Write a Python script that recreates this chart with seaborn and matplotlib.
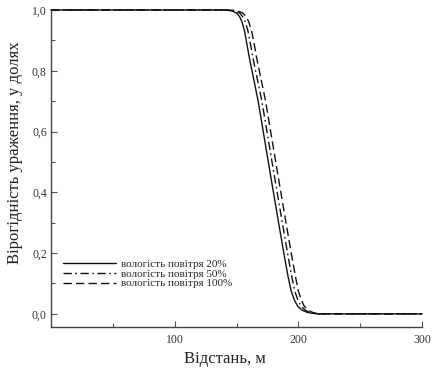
import numpy as np
import pandas as pd
import matplotlib
matplotlib.use("Agg")
import matplotlib.pyplot as plt
import seaborn as sns

# probability levels (shared) and distances
prob = [1.0, 1.0, 0.997, 0.99, 0.978, 0.96, 0.93, 0.89, 0.84, 0.70, 0.49, 0.30,
        0.18, 0.12, 0.075, 0.045, 0.025, 0.012, 0.004, 0.0, 0.0]
dist_20 = [0, 140, 146, 150, 152.5, 154.5, 156.5, 158.3, 160.5, 167.5, 176.1, 184,
           189.1, 191.8, 194.2, 196.8, 199.5, 203, 208, 215, 300]
dist_50 = [0, 142, 148.5, 152.5, 155, 157.2, 159.3, 161.2, 163.4, 170.5, 179.1, 187,
           192.1, 194.8, 197.1, 199.6, 202.2, 205.5, 210, 216, 300]
dist_100 = [0, 144, 151, 155, 157.8, 160, 162.2, 164.2, 166.4, 173.5, 182.1, 190,
            195.1, 197.8, 200, 202.4, 204.8, 207.8, 212, 217, 300]

labels = ["вологість повітря 20%", "вологість повітря 50%", "вологість повітря 100%"]

x_ticks = [100, 200, 300]
x_minor = [50, 150, 250]
y_ticks = [0.0, 0.2, 0.4, 0.6, 0.8, 1.0]
y_tick_labels = ["0,0", "0,2", "0,4", "0,6", "0,8", "1,0"]
y_minor = [0.1, 0.3, 0.5, 0.7, 0.9]

df = pd.concat([
    pd.DataFrame({"x": dist_20, "y": prob, "series": labels[0]}),
    pd.DataFrame({"x": dist_50, "y": prob, "series": labels[1]}),
    pd.DataFrame({"x": dist_100, "y": prob, "series": labels[2]}),
])

sns.set_style("ticks")
plt.rcParams['font.family'] = ['Liberation Serif', 'DejaVu Serif']

fig = plt.figure(figsize=(4.32, 3.69), dpi=100)
ax = fig.add_axes([0.118, 0.114, 0.859, 0.859])

dash_map = {labels[0]: "", labels[1]: (6, 2.5, 1.2, 2.5), labels[2]: (6, 3)}
sns.lineplot(data=df, x="x", y="y", style="series", dashes=dash_map,
             color="#111111", linewidth=1.0, legend=False, ax=ax, sort=False)
for ln in ax.lines:
    ln.set_clip_on(False)

ax.set_xlim(0, 300)
ax.set_ylim(-0.043, 1.0)
ax.set_xticks(x_ticks)
ax.set_xticks(x_minor, minor=True)
ax.set_yticks(y_ticks)
ax.set_yticklabels(y_tick_labels)
ax.set_yticks(y_minor, minor=True)

ax.tick_params(which="both", direction="in", colors="#555555", labelcolor="#333333",
               width=0.8, labelsize=8.5)
ax.tick_params(which="major", length=4)
ax.tick_params(which="minor", length=3)
ax.tick_params(axis="x", pad=5)
ax.tick_params(axis="y", pad=3)

sns.despine(ax=ax)
for sp in ["left", "bottom"]:
    ax.spines[sp].set_color("#444444")
    ax.spines[sp].set_linewidth(1.0)

ax.set_xlabel("Відстань, м", fontsize=12, color="#222222")
ax.set_ylabel("Вірогідність ураження, у долях", fontsize=12, color="#222222")
ax.xaxis.set_label_coords(0.47, -0.075)
ax.yaxis.set_label_coords(-0.075, 0.55)

ax.legend(ax.lines, labels, loc="upper left", bbox_to_anchor=(0.02, 0.228),
          frameon=False, fontsize=8.0, handlelength=4.8, handletextpad=0.4,
          labelspacing=0.0, borderaxespad=0)

fig.savefig("out.png", dpi=100)
